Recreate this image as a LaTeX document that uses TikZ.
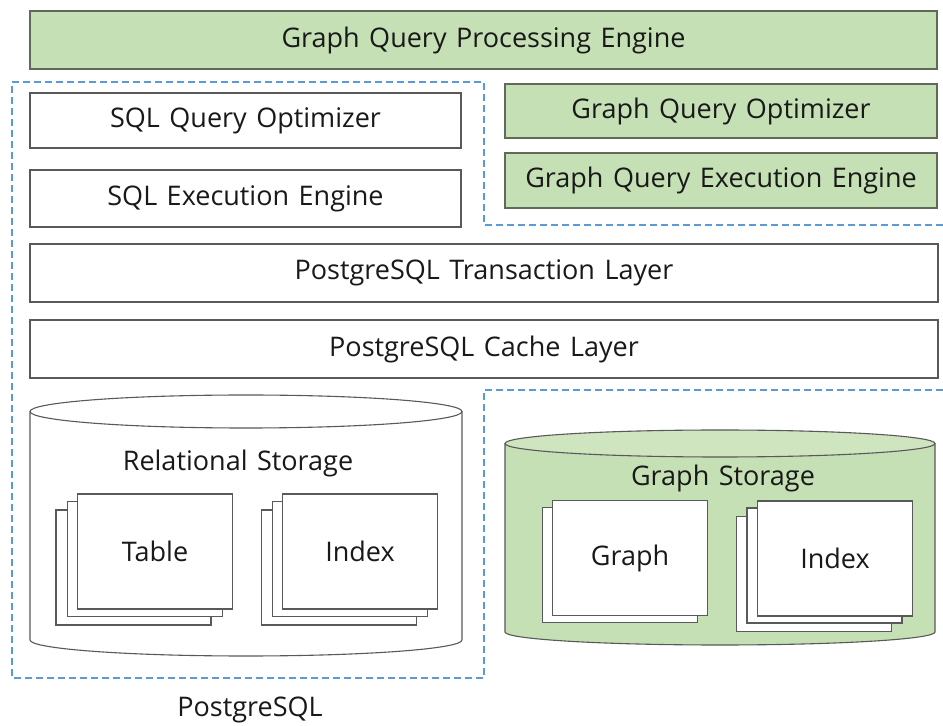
\documentclass[tikz,border=0pt]{standalone}
\usepackage{fontspec}
\setmainfont[WordSpace=1.35]{Open Sans}
\definecolor{gfill}{HTML}{C5E0B4}
\definecolor{gline}{HTML}{5F6B58}
\definecolor{bline}{HTML}{595959}
\definecolor{dblue}{HTML}{5B9BD5}
\begin{document}
\begin{tikzpicture}[x=1pt,y=1pt,
  lbl/.style={font=\fontsize{27}{29}\selectfont, text=black!90},
  wbox/.style={draw=bline, line width=1.3pt, fill=white, lbl, inner sep=0pt},
  gbox/.style={draw=gline, line width=1.3pt, fill=gfill, lbl, inner sep=0pt},
  page/.style={draw=bline, line width=1.1pt, fill=white, inner sep=0pt, minimum width=155pt, minimum height=115pt},
  cyl/.style={draw=bline, line width=1.1pt},
  border/.style={draw=dblue, line width=2.2pt, dash pattern=on 7pt off 4pt}
]
\useasboundingbox (0,0) rectangle (943,726);
\fill[white] (0,0) rectangle (943,726);

% top engine
\node[gbox, minimum width=907pt, minimum height=58pt] (gqpe) at (483.5,686) {Graph Query Processing Engine};

% dashed PostgreSQL border
\draw[border] (943,501) -- (484,501) -- (484,644) -- (12,644) -- (12,48) -- (484,48) -- (484,336) -- (943,336);

% SQL boxes
\node[wbox, minimum width=431pt, minimum height=55pt] (sqlqo) at (245.5,605.5) {SQL Query Optimizer};
\node[wbox, minimum width=431pt, minimum height=57pt] (sqlee) at (245.5,527.5) {SQL Execution Engine};
% Graph boxes
\node[gbox, minimum width=432pt, minimum height=54pt] (gqo) at (721,615) {Graph Query Optimizer};
\node[gbox, minimum width=432pt, minimum height=55pt] (gqee) at (721,545.5) {Graph Query Execution Engine};
% layers
\node[wbox, minimum width=908pt, minimum height=58pt] (trans) at (484,453) {PostgreSQL Transaction Layer};
\node[wbox, minimum width=908pt, minimum height=58pt] (cache) at (484,377) {PostgreSQL Cache Layer};

% relational storage cylinder
\fill[white] (30,314.5) -- (30,86) arc[start angle=180,end angle=360,x radius=216,y radius=16] -- (462,314.5) -- cycle;
\draw[cyl] (30,314.5) -- (30,86) arc[start angle=180,end angle=360,x radius=216,y radius=16] -- (462,314.5);
\draw[cyl, fill=white] (246,314.5) ellipse [x radius=216, y radius=16.5];
\node[lbl] (relst) at (238,263) {Relational Storage};

\node[page] (tab3) at (133.5,158.5) {};
\node[page] (tab2) at (145,167) {};
\node[page, lbl] (tab1) at (155,174.5) {Table};
\node[page] (idx3) at (339,158.5) {};
\node[page] (idx2) at (350,167) {};
\node[page, lbl] (idx1) at (360,174.5) {Index};

% graph storage cylinder
\fill[gfill] (505,282.5) -- (505,94) arc[start angle=180,end angle=360,x radius=215,y radius=13] -- (935,282.5) -- cycle;
\draw[cyl] (505,282.5) -- (505,94) arc[start angle=180,end angle=360,x radius=215,y radius=13] -- (935,282.5);
\draw[cyl, fill=gfill!85!white] (720,282.5) ellipse [x radius=215, y radius=13.5];
\node[lbl] (grst) at (723,248) {Graph Storage};

\node[page] (gr2) at (620,161) {};
\node[page, lbl] (gr1) at (630,168) {Graph};
\node[page] (gi3) at (814,152) {};
\node[page] (gi2) at (824.5,160.5) {};
\node[page, lbl] (gi1) at (835,167.5) {Index};

% label
\node[lbl] (pg) at (250,16) {PostgreSQL};
\end{tikzpicture}
\end{document}
